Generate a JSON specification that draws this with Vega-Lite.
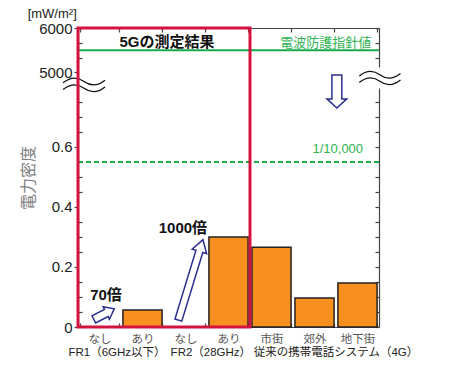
{
  "$schema": "https://vega.github.io/schema/vega-lite/v6.json",
  "width": 301,
  "height": 299,
  "autosize": {"type": "none"},
  "padding": {"left": 78, "top": 28, "right": 71, "bottom": 50},
  "background": "white",
  "config": {
    "view": {"stroke": null},
    "font": "Liberation Sans, Noto Sans CJK JP",
    "axis": {"domainColor": "#444", "tickColor": "#444", "domainWidth": 1.2, "tickWidth": 1.2, "grid": false, "labelFont": "Liberation Sans, Noto Sans CJK JP", "titleFont": "Noto Sans CJK JP"},
    "text": {"font": "Liberation Sans, Noto Sans CJK JP"}
  },
  "datasets": {
    "bars": [
      {"id": "FR1_なし", "system": "5G", "value": 0},
      {"id": "FR1_あり", "system": "5G", "value": 0.057},
      {"id": "FR2_なし", "system": "5G", "value": 0},
      {"id": "FR2_あり", "system": "5G", "value": 0.3},
      {"id": "4G_市街", "system": "4G", "value": 0.266},
      {"id": "4G_郊外", "system": "4G", "value": 0.097},
      {"id": "4G_地下街", "system": "4G", "value": 0.147}
    ]
  },
  "layer": [
    {
      "data": {"name": "bars"},
      "transform": [{"filter": "datum.system == '5G'"}],
      "mark": {"type": "bar", "color": "#f7901e", "stroke": "#222", "strokeWidth": 1.5},
      "encoding": {
        "x": {"field": "id", "type": "nominal", "sort": null,
          "scale": {"domain": ["FR1_なし", "FR1_あり", "FR2_なし", "FR2_あり", "4G_市街", "4G_郊外", "4G_地下街"], "paddingInner": 0.09, "paddingOuter": 0.045},
          "axis": {"orient": "bottom", "title": null, "labelAngle": 0, "labelExpr": "split(datum.value, '_')[1]", "tickBand": "extent", "tickSize": -4, "labelPadding": 10, "labelColor": "#555", "labelFontSize": 11.5}},
        "y": {"field": "value", "type": "quantitative",
          "scale": {"type": "linear", "domain": [0, 0.8233, 4825, 6000], "range": [299, 52, 52, 0], "nice": false, "zero": false},
          "axis": {"orient": "left",
            "values": [0, 0.05, 0.1, 0.15, 0.2, 0.25, 0.3, 0.35, 0.4, 0.45, 0.5, 0.55, 0.6, 0.65, 0.7, 0.75, 5000, 5333.33, 5666.67, 6000],
            "labelExpr": "(datum.value == 0 || datum.value == 0.2 || datum.value == 0.4 || datum.value == 0.6 || datum.value == 5000 || datum.value == 6000) ? format(datum.value, '~r') : ''",
            "tickSize": {"condition": {"test": "datum.value == 0 || datum.value == 0.2 || datum.value == 0.4 || datum.value == 0.6 || datum.value == 5000 || datum.value == 6000", "value": 4}, "value": -4},
            "labelFontSize": 15, "labelColor": "#222", "labelPadding": 2,
            "title": "電力密度", "titleColor": "#808080", "titleFontSize": 16, "titleFontWeight": "normal", "titlePadding": 2}}
      }
    },
    {
      "data": {"name": "bars"},
      "transform": [{"filter": "datum.system == '4G'"}],
      "mark": {"type": "bar", "color": "#f7901e", "stroke": "#222", "strokeWidth": 1.5},
      "encoding": {
        "x": {"field": "id", "type": "nominal", "sort": null,
          "scale": {"domain": ["FR1_なし", "FR1_あり", "FR2_なし", "FR2_あり", "4G_市街", "4G_郊外", "4G_地下街"], "paddingInner": 0.09, "paddingOuter": 0.045},
          "axis": {"orient": "top", "title": null, "labels": false, "tickBand": "extent", "tickSize": -4}},
        "y": {"field": "value", "type": "quantitative",
          "scale": {"type": "linear", "domain": [0, 0.8233, 4825, 6000], "range": [299, 52, 52, 0], "nice": false, "zero": false},
          "axis": {"orient": "right", "title": null, "labels": false, "tickSize": -4,
            "values": [0, 0.05, 0.1, 0.15, 0.2, 0.25, 0.3, 0.35, 0.4, 0.45, 0.5, 0.55, 0.6, 0.65, 0.7, 0.75, 5000, 5333.33, 5666.67, 6000]}}
      }
    },
    {
      "data": {"values": [{"level": 5500}]},
      "mark": {"type": "rule", "color": "#1aa84c", "strokeWidth": 2},
      "encoding": {"y": {"field": "level", "type": "quantitative", "axis": null,
        "scale": {"type": "linear", "domain": [0, 0.8233, 4825, 6000], "range": [299, 52, 52, 0], "nice": false, "zero": false}}}
    },
    {
      "data": {"values": [{"level": 0.55}]},
      "mark": {"type": "rule", "color": "#1aa84c", "strokeWidth": 2, "strokeDash": [5, 3]},
      "encoding": {"y": {"field": "level", "type": "quantitative", "axis": null,
        "scale": {"type": "linear", "domain": [0, 0.8233, 4825, 6000], "range": [299, 52, 52, 0], "nice": false, "zero": false}}}
    },
    {
      "data": {"values": [{"px": 0.14, "py": 0.807}]},
      "mark": {"type": "point", "filled": false, "color": "#111", "strokeWidth": 1.3, "opacity": 1, "size": 1764,
        "shape": "M-1,-0.1 C-0.6,-0.42 -0.3,-0.38 0,-0.16 C0.3,0.06 0.6,0.1 1,-0.22 M-1,0.22 C-0.6,-0.1 -0.3,-0.06 0,0.16 C0.3,0.38 0.6,0.42 1,0.1"},
      "encoding": {
        "x": {"field": "px", "type": "quantitative", "axis": null, "scale": {"domain": [0, 7], "nice": false, "zero": false}},
        "y": {"field": "py", "type": "quantitative", "axis": null,
          "scale": {"type": "linear", "domain": [0, 0.8233, 4825, 6000], "range": [299, 52, 52, 0], "nice": false, "zero": false}}
      }
    },
    {
      "data": {"values": [{"from": 0, "to": 4, "bottom": 0, "top": 6000}]},
      "mark": {"type": "rect", "fill": "white", "fillOpacity": 0, "stroke": "#d4123f", "strokeWidth": 3},
      "encoding": {
        "x": {"field": "from", "type": "quantitative", "axis": null, "scale": {"domain": [0, 7], "nice": false, "zero": false}},
        "x2": {"field": "to"},
        "y": {"field": "bottom", "type": "quantitative", "axis": null,
          "scale": {"type": "linear", "domain": [0, 0.8233, 4825, 6000], "range": [299, 52, 52, 0], "nice": false, "zero": false}},
        "y2": {"field": "top"}
      }
    },
    {
      "data": {"values": [{"px": 7.02, "py": 4870}]},
      "mark": {"type": "point", "filled": true, "color": "white", "opacity": 1, "strokeWidth": 0, "size": 1764,
        "shape": "M-1,-0.5 L1,-0.5 L1,0.5 L-1,0.5 Z"},
      "encoding": {
        "x": {"field": "px", "type": "quantitative", "axis": null, "scale": {"domain": [0, 7], "nice": false, "zero": false}},
        "y": {"field": "py", "type": "quantitative", "axis": null,
          "scale": {"type": "linear", "domain": [0, 0.8233, 4825, 6000], "range": [299, 52, 52, 0], "nice": false, "zero": false}}
      }
    },
    {
      "data": {"values": [{"px": 7.02, "py": 4870}]},
      "mark": {"type": "point", "filled": false, "color": "#111", "strokeWidth": 1.3, "opacity": 1, "size": 1700,
        "shape": "M-1,-0.1 C-0.6,-0.42 -0.3,-0.38 0,-0.16 C0.3,0.06 0.6,0.1 1,-0.22 M-1,0.22 C-0.6,-0.1 -0.3,-0.06 0,0.16 C0.3,0.38 0.6,0.42 1,0.1"},
      "encoding": {
        "x": {"field": "px", "type": "quantitative", "axis": null, "scale": {"domain": [0, 7], "nice": false, "zero": false}},
        "y": {"field": "py", "type": "quantitative", "axis": null,
          "scale": {"type": "linear", "domain": [0, 0.8233, 4825, 6000], "range": [299, 52, 52, 0], "nice": false, "zero": false}}
      }
    },
    {
      "data": {"values": [{"px": 0.605, "py": 0.043}]},
      "mark": {"type": "point", "filled": true, "fill": "white", "stroke": "#2b2f8f", "strokeWidth": 1.5, "opacity": 1, "size": 529, "angle": 63,
        "shape": "M-0.35,1 L0.35,1 L0.35,-0.22 L0.61,-0.22 L0,-1 L-0.61,-0.22 L-0.35,-0.22 Z"},
      "encoding": {
        "x": {"field": "px", "type": "quantitative", "axis": null, "scale": {"domain": [0, 7], "nice": false, "zero": false}},
        "y": {"field": "py", "type": "quantitative", "axis": null,
          "scale": {"type": "linear", "domain": [0, 0.8233, 4825, 6000], "range": [299, 52, 52, 0], "nice": false, "zero": false}}
      }
    },
    {
      "data": {"values": [{"px": 2.62, "py": 0.157}]},
      "mark": {"type": "point", "filled": true, "fill": "white", "stroke": "#2b2f8f", "strokeWidth": 1.5, "opacity": 1, "size": 7056, "angle": 17,
        "shape": "M-0.085,1 L0.085,1 L0.085,-0.71 L0.18,-0.71 L0,-1 L-0.18,-0.71 L-0.085,-0.71 Z"},
      "encoding": {
        "x": {"field": "px", "type": "quantitative", "axis": null, "scale": {"domain": [0, 7], "nice": false, "zero": false}},
        "y": {"field": "py", "type": "quantitative", "axis": null,
          "scale": {"type": "linear", "domain": [0, 0.8233, 4825, 6000], "range": [299, 52, 52, 0], "nice": false, "zero": false}}
      }
    },
    {
      "data": {"values": [{"px": 6.02, "py": 0.785}]},
      "mark": {"type": "point", "filled": true, "fill": "white", "stroke": "#2b2f8f", "strokeWidth": 1.5, "opacity": 1, "size": 1089, "angle": 180,
        "shape": "M-0.3,1 L0.3,1 L0.3,-0.45 L0.6,-0.45 L0,-1 L-0.6,-0.45 L-0.3,-0.45 Z"},
      "encoding": {
        "x": {"field": "px", "type": "quantitative", "axis": null, "scale": {"domain": [0, 7], "nice": false, "zero": false}},
        "y": {"field": "py", "type": "quantitative", "axis": null,
          "scale": {"type": "linear", "domain": [0, 0.8233, 4825, 6000], "range": [299, 52, 52, 0], "nice": false, "zero": false}}
      }
    },
    {
      "data": {"values": [
        {"px": 2.07, "py": 5684, "label": "5Gの測定結果"},
        {"px": 0.651, "py": 0.107, "label": "70倍"},
        {"px": 2.44, "py": 0.33, "label": "1000倍"}
      ]},
      "mark": {"type": "text", "fontSize": 15, "fontWeight": "bold", "color": "#111", "align": "center", "baseline": "middle"},
      "encoding": {
        "x": {"field": "px", "type": "quantitative", "axis": null, "scale": {"domain": [0, 7], "nice": false, "zero": false}},
        "y": {"field": "py", "type": "quantitative", "axis": null,
          "scale": {"type": "linear", "domain": [0, 0.8233, 4825, 6000], "range": [299, 52, 52, 0], "nice": false, "zero": false}},
        "text": {"field": "label"}
      }
    },
    {
      "data": {"values": [
        {"px": 6.82, "py": 5672, "label": "電波防護指針値"},
        {"px": 6.63, "py": 0.593, "label": "1/10,000"}
      ]},
      "mark": {"type": "text", "fontSize": 13, "color": "#2fb352", "align": "right", "baseline": "middle"},
      "encoding": {
        "x": {"field": "px", "type": "quantitative", "axis": null, "scale": {"domain": [0, 7], "nice": false, "zero": false}},
        "y": {"field": "py", "type": "quantitative", "axis": null,
          "scale": {"type": "linear", "domain": [0, 0.8233, 4825, 6000], "range": [299, 52, 52, 0], "nice": false, "zero": false}},
        "text": {"field": "label"}
      }
    },
    {
      "data": {"values": [
        {"px": -0.6, "py": 6316, "label": "[mW/m²]"}
      ]},
      "mark": {"type": "text", "fontSize": 13, "color": "#222", "align": "center", "baseline": "middle"},
      "encoding": {
        "x": {"field": "px", "type": "quantitative", "axis": null, "scale": {"domain": [0, 7], "nice": false, "zero": false}},
        "y": {"field": "py", "type": "quantitative", "axis": null,
          "scale": {"type": "linear", "domain": [0, 0.8233, 4825, 6000], "range": [299, 52, 52, 0], "nice": false, "zero": false}},
        "text": {"field": "label"}
      }
    },
    {
      "data": {"values": [
        {"px": 0.907, "py": -0.087, "label": "FR1（6GHz以下）"},
        {"px": 3.09, "py": -0.087, "label": "FR2（28GHz）"},
        {"px": 6.0, "py": -0.087, "label": "従来の携帯電話システム（4G）"}
      ]},
      "mark": {"type": "text", "fontSize": 11.5, "color": "#222", "align": "center", "baseline": "middle"},
      "encoding": {
        "x": {"field": "px", "type": "quantitative", "axis": null, "scale": {"domain": [0, 7], "nice": false, "zero": false}},
        "y": {"field": "py", "type": "quantitative", "axis": null,
          "scale": {"type": "linear", "domain": [0, 0.8233, 4825, 6000], "range": [299, 52, 52, 0], "nice": false, "zero": false}},
        "text": {"field": "label"}
      }
    }
  ],
  "resolve": {"scale": {"x": "independent"}, "axis": {"x": "independent", "y": "independent"}}
}
